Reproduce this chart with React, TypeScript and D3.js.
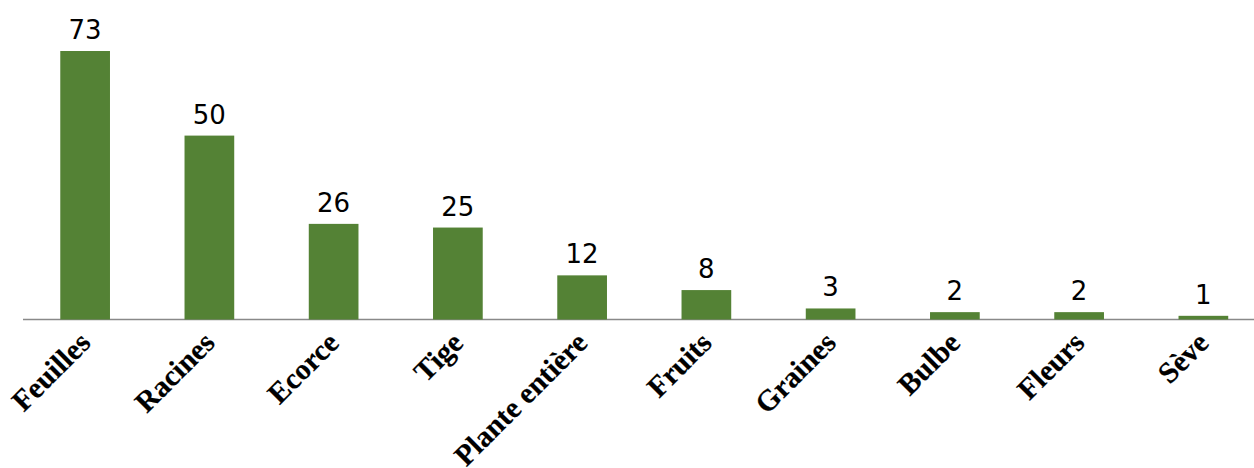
import React from "react";
import * as d3 from "d3";

const categories = [
  "Feuilles",
  "Racines",
  "Ecorce",
  "Tige",
  "Plante entière",
  "Fruits",
  "Graines",
  "Bulbe",
  "Fleurs",
  "Sève",
];
const counts = [73, 50, 26, 25, 12, 8, 3, 2, 2, 1];

const W = 1254;
const H = 468;
const baseY = 319.5;
const topY = 51;
const barColor = "#548235";

export default function App() {
  const x = d3
    .scaleBand<string>()
    .domain(categories)
    .range([23, 1265.5])
    .paddingInner(0.6)
    .paddingOuter(0.3);
  const y = d3
    .scaleLinear()
    .domain([0, d3.max(counts) as number])
    .range([baseY, topY]);

  return (
    <svg
      width={W}
      height={H}
      style={{ position: "absolute", left: 0, top: 0, background: "#fff" }}
    >
      <line x1={23} x2={1254} y1={baseY} y2={baseY} stroke="#898989" strokeWidth={1.3} />
      {categories.map((c, i) => {
        const v = counts[i];
        const bx = x(c) as number;
        const cx = bx + x.bandwidth() / 2;
        return (
          <g key={c}>
            <rect x={bx} y={y(v)} width={x.bandwidth()} height={baseY - y(v)} fill={barColor} />
            <text
              x={cx}
              y={y(v) - 12}
              textAnchor="middle"
              fontFamily="DejaVu Sans"
              fontSize={26}
              fill="#000"
            >
              {v}
            </text>
            <text
              transform={`translate(${cx + 7},${baseY + 25}) rotate(-45)`}
              textAnchor="end"
              fontFamily="Liberation Serif"
              fontWeight="bold"
              fontSize={29.5}
              stroke="#000"
              strokeWidth={0.2}
              fill="#000"
            >
              {c}
            </text>
          </g>
        );
      })}
    </svg>
  );
}
